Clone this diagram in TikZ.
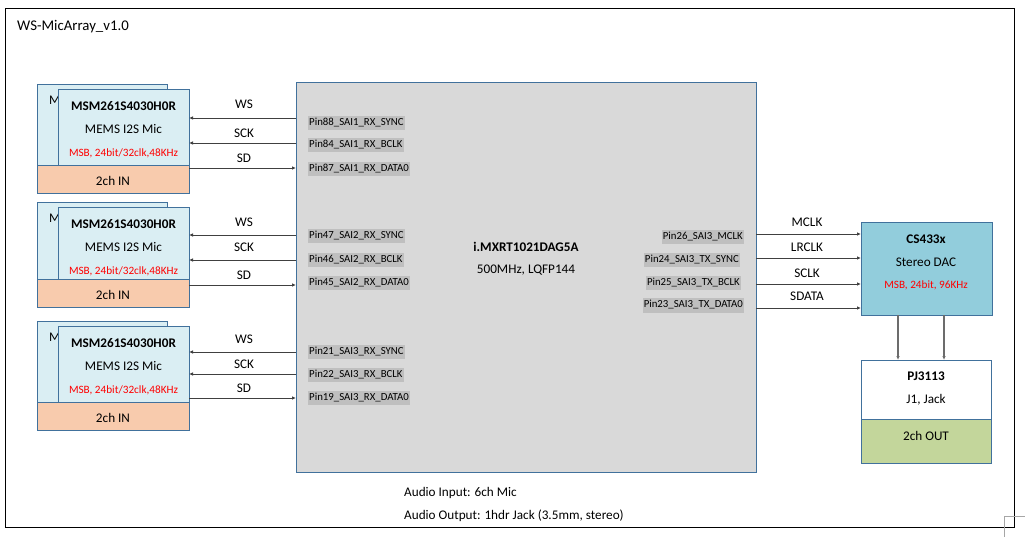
\documentclass[tikz,border=0pt]{standalone}
\usepackage{fontspec}
\setmainfont{Carlito}
\usetikzlibrary{arrows.meta}
\definecolor{micfill}{HTML}{DAEEF3}
\definecolor{bordc}{HTML}{41719C}
\definecolor{orangec}{HTML}{F8CBAD}
\definecolor{chipfill}{HTML}{D9D9D9}
\definecolor{pingray}{HTML}{BFBFBF}
\definecolor{dacfill}{HTML}{92CDDC}
\definecolor{greenc}{HTML}{C3D69B}
\definecolor{linec}{HTML}{404040}
\definecolor{redc}{HTML}{FF0000}
\tikzset{
  boxst/.style={draw=bordc, line width=0.9pt},
  micbox/.style={boxst, fill=micfill},
  orbox/.style={boxst, fill=orangec},
  chipbox/.style={boxst, fill=chipfill},
  dacbox/.style={boxst, fill=dacfill},
  whitebox/.style={boxst, fill=white},
  grbox/.style={boxst, fill=greenc},
  txt/.style={inner sep=0pt, text height=0.65em, text depth=0pt, font=\fontsize{13.2}{15}\selectfont},
  btxt/.style={txt, font=\fontsize{13.2}{15}\selectfont\bfseries},
  rtxt/.style={txt, text=redc, font=\fontsize{11.2}{13}\selectfont},
  pin/.style={fill=pingray, inner xsep=1pt, inner ysep=2.5pt, text height=0.7em, text depth=0.25em, font=\fontsize{10.8}{12}\selectfont},
  arr/.style={draw=linec, line width=0.9pt, -{Latex[length=4pt,width=3.5pt]}},
  darr/.style={draw=gray!85!black, line width=1.1pt, -{Latex[length=4pt,width=3.5pt]}},
}
\newcommand\bx[6]{\node[#2,anchor=north west,minimum width={(#5)-(#3)},minimum height={(#6)-(#4)},inner sep=0pt,outer sep=0pt] (#1) at (#3,#4) {};}
% mic block: id, backtop, fronttop, frontbot, orangebot
\newcommand\micblk[5]{%
  \bx{back#1}{micbox}{37}{#2}{167}{#4}
  \node[txt,anchor=west] (m#1) at (49,{#2+17}) {M};
  \bx{front#1}{micbox}{58}{#3}{189}{#4}
  \bx{in#1}{orbox}{37}{#4}{189}{#5}
  \node[btxt] (msm#1) at (123.5,{#3+18}) {MSM261S4030H0R};
  \node[txt] (mems#1) at (123.5,{#3+41}) {MEMS I2S Mic};
  \node[rtxt] (fmt#1) at (123.5,{#3+64}) {MSB, 24bit/32clk,48KHz};
  \node[txt] (inl#1) at (113,{(#4+#5)/2+3}) {2ch IN};
}
\newcommand\sigtomic[4]{%
  \coordinate (c#1) at (0,#2);
  \draw[arr] (chip.west |- c#1) -- (front1.east |- c#1);
  \node[txt] (l#1) at (244,{#4+1}) {#3};
}
\newcommand\sigtochip[4]{%
  \coordinate (c#1) at (0,#2);
  \draw[arr] (front1.east |- c#1) -- (chip.west |- c#1);
  \node[txt] (l#1) at (244,{#4+1}) {#3};
}
\newcommand\sigdac[4]{%
  \coordinate (c#1) at (0,#2);
  \draw[arr] (chip.east |- c#1) -- (dac.west |- c#1);
  \node[txt] (l#1) at (807,{#4+1}) {#3};
}
\newcommand\pinL[3]{\node[pin, anchor=west] (#1) at (308,{#2+2}) {#3};}
\newcommand\pinR[4]{\node[pin, anchor=east] (#1) at (#2,{#3+2}) {#4};}
\begin{document}
\begin{tikzpicture}[x=1pt,y=-1pt]
\useasboundingbox (0,0) rectangle (1025,537);
\fill[white] (0,0) rectangle (1025,537);
% outer frame
\node[draw=black, line width=1pt, anchor=north west, minimum width=1009pt, minimum height=518pt, inner sep=0pt, outer sep=0pt] (frame) at (5,9) {};
\node[txt, anchor=west, font=\fontsize{14.8}{17}\selectfont] (title) at (17,27) {WS-MicArray\_v1.0};
\coordinate (cornA) at (1004,537);
\coordinate (cornB) at (1004,516);
\coordinate (cornC) at (1025,516);
\draw[gray!70, line width=1pt] (cornA) -- (cornB) -- (cornC);

% chip
\bx{chip}{chipbox}{296}{82}{756}{472}
\node[btxt] (chipname) at (526,248) {i.MXRT1021DAG5A};
\node[txt] (chipspec) at (526,270) {500MHz, LQFP144};

% mic blocks
\micblk{1}{84}{89}{165}{193}
\micblk{2}{202}{207}{279}{307}
\micblk{3}{321}{326}{402}{430}

% pin labels left
\pinL{p88}{121}{Pin88\_SAI1\_RX\_SYNC}
\pinL{p84}{143}{Pin84\_SAI1\_RX\_BCLK}
\pinL{p87}{167}{Pin87\_SAI1\_RX\_DATA0}
\pinL{p47}{234}{Pin47\_SAI2\_RX\_SYNC}
\pinL{p46}{258}{Pin46\_SAI2\_RX\_BCLK}
\pinL{p45}{281}{Pin45\_SAI2\_RX\_DATA0}
\pinL{p21}{350}{Pin21\_SAI3\_RX\_SYNC}
\pinL{p22}{373}{Pin22\_SAI3\_RX\_BCLK}
\pinL{p19}{396}{Pin19\_SAI3\_RX\_DATA0}

% pin labels right
\pinR{p26}{744}{235}{Pin26\_SAI3\_MCLK}
\pinR{p24}{740}{258}{Pin24\_SAI3\_TX\_SYNC}
\pinR{p25}{741}{281}{Pin25\_SAI3\_TX\_BCLK}
\pinR{p23}{744}{303.5}{Pin23\_SAI3\_TX\_DATA0}

% DAC and jack
\bx{dac}{dacbox}{861}{222}{992}{315}
\node[btxt] (dacname) at (926,240) {CS433x};
\node[txt] (dacdesc) at (926,263) {Stereo DAC};
\node[rtxt] (dacfmt) at (926,285) {MSB, 24bit, 96KHz};
\bx{pj}{whitebox}{861}{360}{991}{419}
\bx{outb}{grbox}{861}{419}{991}{463}
\node[btxt] (pjname) at (926,377) {PJ3113};
\node[txt] (pjdesc) at (926,400) {J1, Jack};
\node[txt] (outl) at (926,437) {2ch OUT};
\coordinate (dl) at (898,0);
\coordinate (dr) at (944,0);
\draw[darr] (dac.south -| dl) -- (pj.north -| dl);
\draw[darr] (dac.south -| dr) -- (pj.north -| dr);

% left signals
\sigtomic{a1}{118}{WS}{104}
\sigtomic{a2}{143}{SCK}{133}
\sigtochip{a3}{168}{SD}{158}
\sigtomic{b1}{235}{WS}{222}
\sigtomic{b2}{260}{SCK}{247}
\sigtochip{b3}{285}{SD}{275}
\sigtomic{d1}{352}{WS}{339}
\sigtomic{d2}{374}{SCK}{364}
\sigtochip{d3}{398}{SD}{388}

% right signals
\sigdac{r1}{234}{MCLK}{222}
\sigdac{r2}{258}{LRCLK}{247}
\sigdac{r3}{284}{SCLK}{273}
\sigdac{r4}{308}{SDATA}{296}

% notes
\node[txt, anchor=west, font=\fontsize{13.2}{15}\selectfont] (note1) at (404,493) {Audio Input: 6ch Mic};
\node[txt, anchor=west, font=\fontsize{13.2}{15}\selectfont] (note2) at (404,516) {Audio Output: 1hdr Jack (3.5mm, stereo)};
\end{tikzpicture}
\end{document}
